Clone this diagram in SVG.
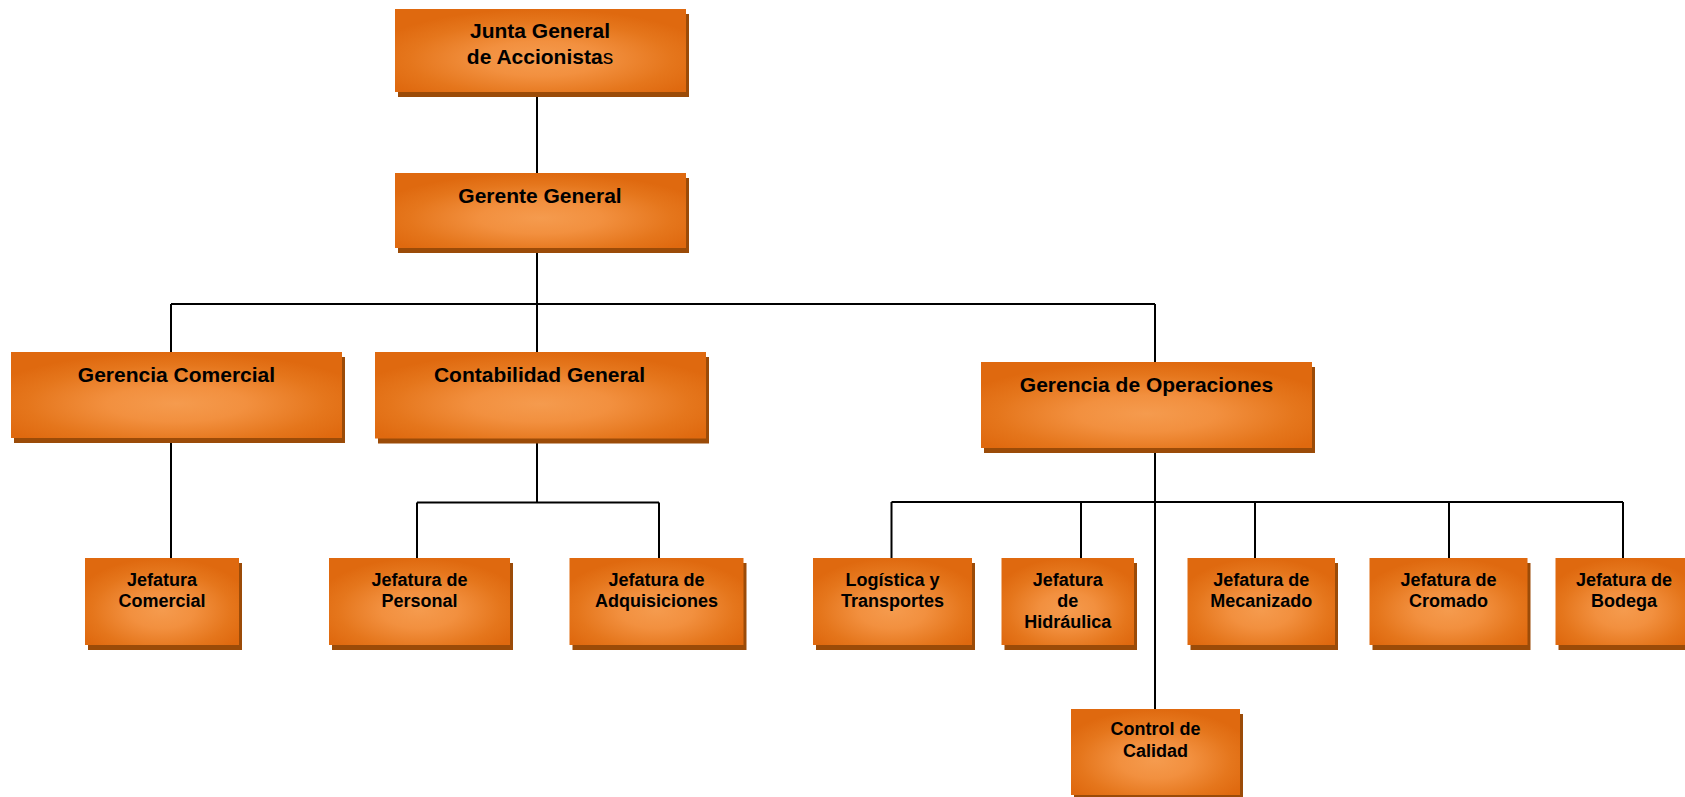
<svg xmlns="http://www.w3.org/2000/svg" width="1685" height="797" viewBox="0 0 1685 797">
<defs>
<radialGradient id="g" cx="0.5" cy="0.6" r="0.6" fx="0.5" fy="0.6">
<stop offset="0" stop-color="#F59B4E"/>
<stop offset="0.35" stop-color="#F2903F"/>
<stop offset="0.75" stop-color="#E5761C"/>
<stop offset="1" stop-color="#DF690F"/>
</radialGradient>
<style>
.box{fill:url(#g);}
.sh{fill:#9B4B08;}
.t{font-family:"Liberation Sans",Arial,sans-serif;font-weight:bold;fill:#000;text-anchor:middle;}
.big{font-size:21px;}
.sm{font-size:18px;}
.c{stroke:#000;stroke-width:2;fill:none;}
</style>
</defs>
<rect width="1685" height="797" fill="#fff"/>
<g id="connectors">
<path class="c" d="M537 92V173M537 248V304M171 304H1155M171 304V352M537 304V352M1155 304V362"/>
<path class="c" d="M171 438V558"/>
<path class="c" d="M537 438V502.5M417 502.5H659M417 502.5V558M659 502.5V558"/>
<path class="c" d="M1155 448V709M891.5 502H1623M891.5 502V558M1081 502V558M1255 502V558M1449 502V558M1623 502V558"/>
</g>
<g id="junta">
<rect class="sh" x="398" y="14" width="291" height="83"/>
<rect class="box" x="395" y="9" width="291" height="83"/>
<text class="t big" x="540" y="37.5">Junta General</text>
<text class="t big" x="540" y="63.5">de Accionista<tspan font-weight="normal">s</tspan></text>
</g>
<g id="gerente">
<rect class="sh" x="398" y="178" width="291" height="75"/>
<rect class="box" x="395" y="173" width="291" height="75"/>
<text class="t big" x="540" y="202.7">Gerente General</text>
</g>
<g id="gerencia-comercial">
<rect class="sh" x="14" y="357" width="331" height="86"/>
<rect class="box" x="11" y="352" width="331" height="86"/>
<text class="t big" x="176.5" y="381.7">Gerencia Comercial</text>
</g>
<g id="contabilidad">
<rect class="sh" x="378" y="357" width="331" height="86.5"/>
<rect class="box" x="375" y="352" width="331" height="86.5"/>
<text class="t big" x="539.5" y="381.7">Contabilidad General</text>
</g>
<g id="operaciones">
<rect class="sh" x="984" y="367" width="331" height="86"/>
<rect class="box" x="981" y="362" width="331" height="86"/>
<text class="t big" x="1146.5" y="392.3">Gerencia de Operaciones</text>
</g>
<g id="jef-comercial">
<rect class="sh" x="88" y="563" width="154" height="87"/>
<rect class="box" x="85" y="558" width="154" height="87"/>
<text class="t sm" x="162" y="585.7">Jefatura</text>
<text class="t sm" x="162" y="606.7">Comercial</text>
</g>
<g id="jef-personal">
<rect class="sh" x="332" y="563" width="181" height="87"/>
<rect class="box" x="329" y="558" width="181" height="87"/>
<text class="t sm" x="419.5" y="585.7">Jefatura de</text>
<text class="t sm" x="419.5" y="606.7">Personal</text>
</g>
<g id="jef-adquisiciones">
<rect class="sh" x="572.5" y="563" width="174" height="87"/>
<rect class="box" x="569.5" y="558" width="174" height="87"/>
<text class="t sm" x="656.5" y="585.7">Jefatura de</text>
<text class="t sm" x="656.5" y="606.7">Adquisiciones</text>
</g>
<g id="logistica">
<rect class="sh" x="816" y="563" width="159" height="87"/>
<rect class="box" x="813" y="558" width="159" height="87"/>
<text class="t sm" x="892.5" y="585.7">Logística y</text>
<text class="t sm" x="892.5" y="606.7">Transportes</text>
</g>
<g id="hidraulica">
<rect class="sh" x="1004.5" y="563" width="132.5" height="87"/>
<rect class="box" x="1001.5" y="558" width="132.5" height="87"/>
<text class="t sm" x="1067.7" y="585.7">Jefatura</text>
<text class="t sm" x="1067.7" y="606.7">de</text>
<text class="t sm" x="1067.7" y="628.3">Hidráulica</text>
</g>
<g id="mecanizado">
<rect class="sh" x="1190.5" y="563" width="147.5" height="87"/>
<rect class="box" x="1187.5" y="558" width="147.5" height="87"/>
<text class="t sm" x="1261.3" y="585.7">Jefatura de</text>
<text class="t sm" x="1261.3" y="606.7">Mecanizado</text>
</g>
<g id="cromado">
<rect class="sh" x="1372.5" y="563" width="158" height="87"/>
<rect class="box" x="1369.5" y="558" width="158" height="87"/>
<text class="t sm" x="1448.5" y="585.7">Jefatura de</text>
<text class="t sm" x="1448.5" y="606.7">Cromado</text>
</g>
<g id="bodega">
<rect class="sh" x="1558.5" y="563" width="137" height="87"/>
<rect class="box" x="1555.5" y="558" width="137" height="87"/>
<text class="t sm" x="1624" y="585.7">Jefatura de</text>
<text class="t sm" x="1624" y="606.7">Bodega</text>
</g>
<g id="calidad">
<rect class="sh" x="1074" y="714" width="169" height="86"/>
<rect class="box" x="1071" y="709" width="169" height="86"/>
<text class="t sm" x="1155.5" y="735">Control de</text>
<text class="t sm" x="1155.5" y="756.7">Calidad</text>
</g>
</svg>
